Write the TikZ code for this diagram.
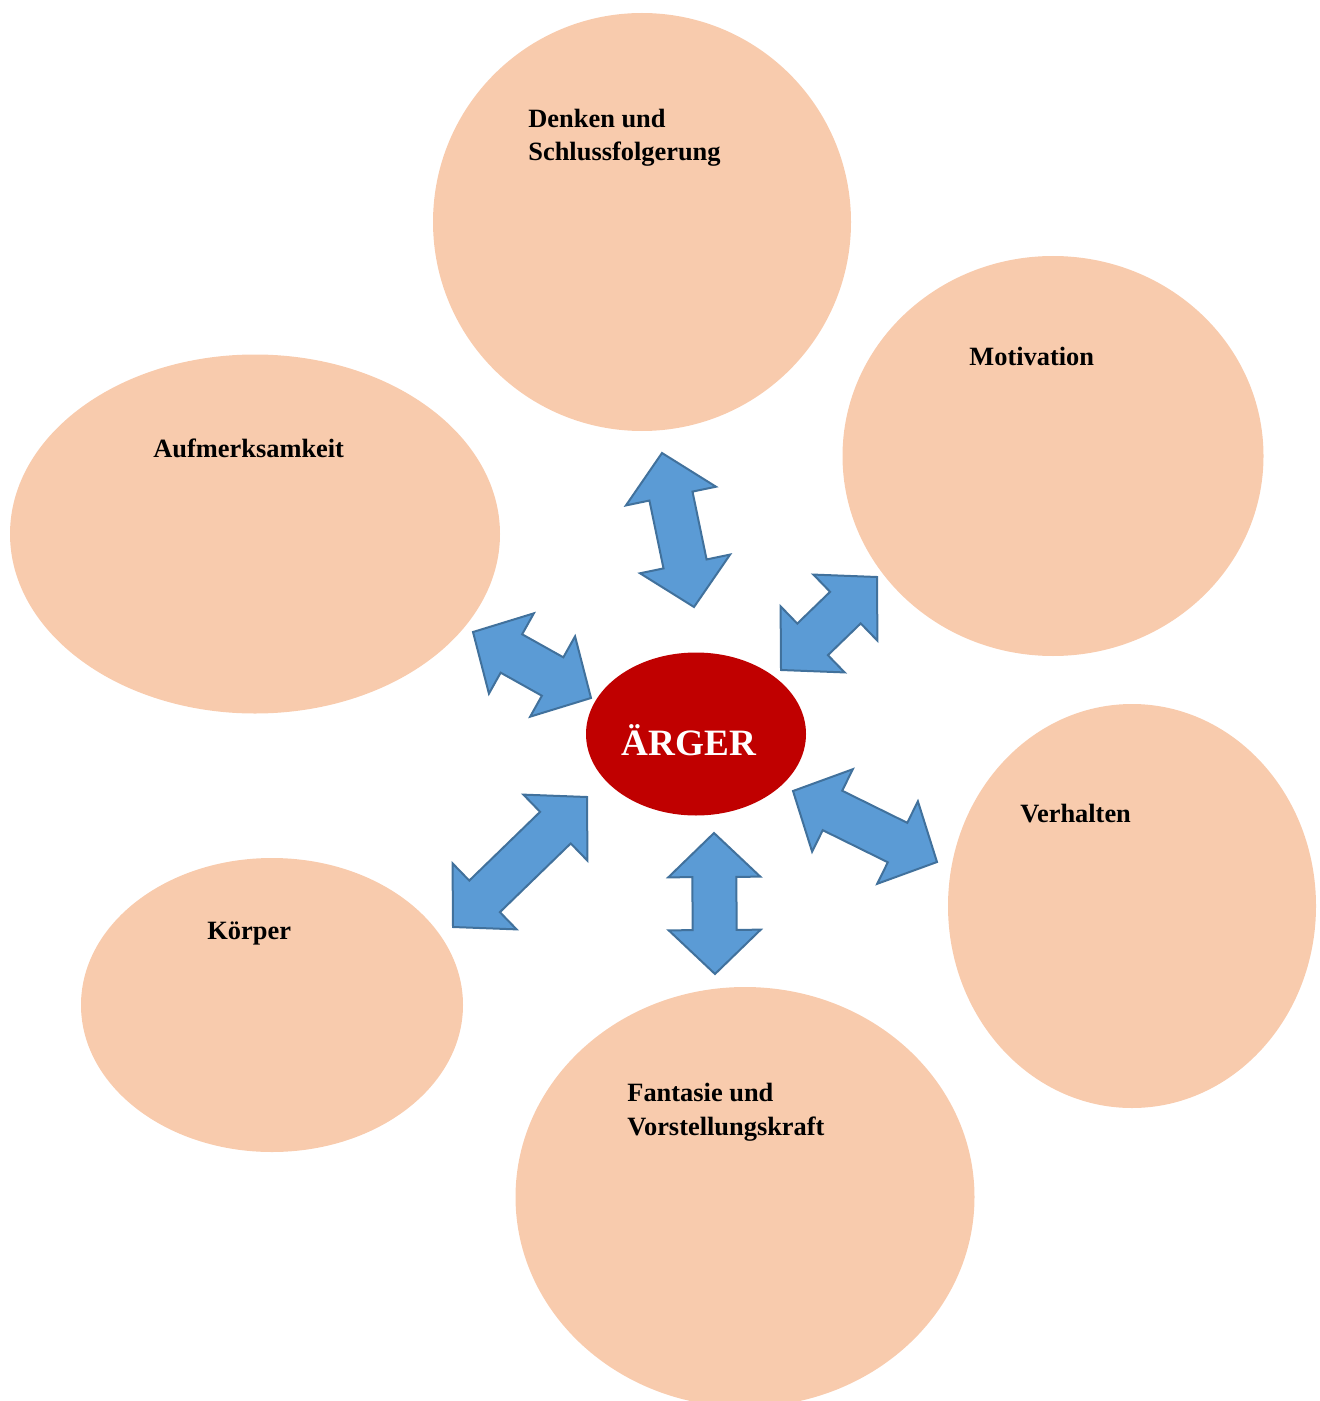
\documentclass[tikz,border=0pt]{standalone}
\usepackage{fontspec}
\setmainfont{Liberation Serif}
\usepackage{tikz}
\usetikzlibrary{shapes.geometric,calc}

\definecolor{peach}{HTML}{F8CBAD}
\definecolor{angerred}{HTML}{C00000}
\definecolor{arrowblue}{HTML}{5B9BD5}
\definecolor{arrowline}{HTML}{41719C}

% block double arrow between two tip coordinates
\newcommand{\twoway}[2]{%
  \draw[dblarrow] (#1) -- ($(#1)!22pt!(#2)!23pt!90:(#2)$) -- ($(#1)!22pt!(#2)!11pt!90:(#2)$)
    -- ($(#2)!22pt!(#1)!11pt!-90:(#1)$) -- ($(#2)!22pt!(#1)!23pt!-90:(#1)$) -- (#2)
    -- ($(#2)!22pt!(#1)!23pt!90:(#1)$) -- ($(#2)!22pt!(#1)!11pt!90:(#1)$)
    -- ($(#1)!22pt!(#2)!11pt!-90:(#2)$) -- ($(#1)!22pt!(#2)!23pt!-90:(#2)$) -- cycle;}

\begin{document}
\begin{tikzpicture}[x=0.5pt,y=-0.5pt]
            \tikzstyle{blob}=[ellipse,fill=peach,inner sep=0pt]
            \tikzstyle{lbl}=[anchor=base west,align=left,inner sep=0pt,font=\fontsize{13.2}{16.6}\selectfont\bfseries]
            \tikzstyle{dblarrow}=[fill=arrowblue,draw=arrowline,line width=1pt,line join=miter]
            \useasboundingbox (0,0) rectangle (1319,1401);
            % the six fields round the centre
            \node[blob,minimum width=209pt,minimum height=209pt] (denken) at (642,222) {};
            \node[blob,minimum width=210.5pt,minimum height=200pt] (motiv) at (1053,456) {};
            \node[blob,minimum width=245pt,minimum height=179.5pt] (aufm) at (255,534) {};
            \node[blob,minimum width=184pt,minimum height=202pt] (verh) at (1132,906) {};
            \node[blob,minimum width=191pt,minimum height=147pt] (koerper) at (272,1005) {};
            \node[blob,minimum width=229.5pt,minimum height=210pt] (fant) at (745,1197) {};
            \node[lbl] (denkentxt) at (528,161) {Denken und\\Schlussfolgerung};
            \node[lbl] (motivtxt) at (969,365) {Motivation};
            \node[lbl] (aufmtxt) at (153,457) {Aufmerksamkeit};
            \node[lbl] (verhtxt) at (1020,822) {Verhalten};
            \node[lbl] (koerpertxt) at (207,939) {Körper};
            \node[lbl] (fanttxt) at (627,1135) {Fantasie und\\Vorstellungskraft};
            % centre
            \node[ellipse,fill=angerred,inner sep=0pt,minimum width=110pt,minimum height=81.5pt] (anger) at (696,734) {};
            \node[anchor=base,text=white,inner sep=0pt,font=\fontsize{18.6}{22}\selectfont\bfseries] (angertxt) at (689,755) {ÄRGER};
            % arrow tips
            \coordinate (t1) at (662,453); \coordinate (t2) at (694,607);
            \coordinate (ur1) at (877,577); \coordinate (ur2) at (781,670);
            \coordinate (l1) at (473,632); \coordinate (l2) at (591,698);
            \coordinate (r1) at (793,791); \coordinate (r2) at (937,862);
            \coordinate (ll1) at (587,797); \coordinate (ll2) at (453,927);
            \coordinate (b1) at (714,833); \coordinate (b2) at (715,974);
            \twoway{t1}{t2}
            \twoway{ur1}{ur2}
            \twoway{l1}{l2}
            \twoway{r1}{r2}
            \twoway{ll1}{ll2}
            \twoway{b1}{b2}
\end{tikzpicture}
\end{document}
